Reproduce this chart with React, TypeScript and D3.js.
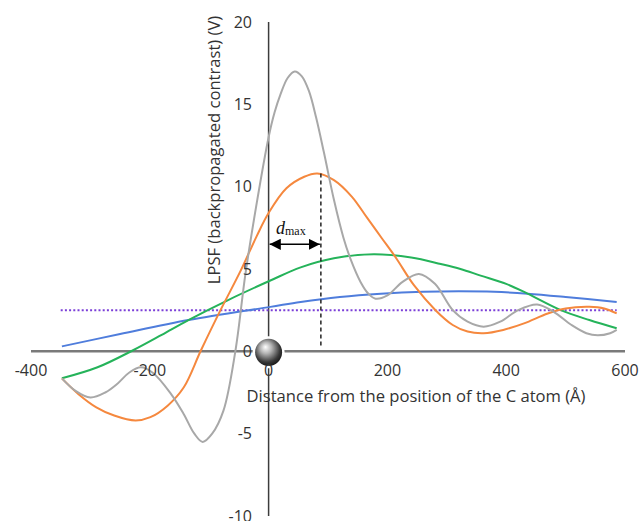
import React from "react";
import * as d3 from "d3";

const xTicks = [-400, -200, 0, 200, 400, 600];
const yTicks = [-10, -5, 0, 5, 10, 15, 20];

const grayX = [-348, -325, -300, -275, -254, -235, -215, -195, -165, -143, -125, -111, -95, -76, -56, -39, -20, 0, 10, 20, 32, 44, 56, 68, 80, 93, 110, 126, 138, 155, 168, 180, 200, 225, 253, 280, 310, 335, 362, 390, 420, 452, 480, 510, 535, 554, 575, 586];
const grayY = [-1.64, -2.4, -2.8, -2.5, -1.95, -1.3, -0.97, -1.3, -2.55, -3.8, -5.0, -5.5, -5.0, -3.6, 0, 4.7, 9.0, 13.0, 14.5, 15.6, 16.6, 17.0, 16.7, 15.8, 14.2, 12.1, 9.2, 6.9, 5.6, 4.2, 3.5, 3.2, 3.4, 4.2, 4.7, 4.1, 2.5, 1.8, 1.5, 1.8, 2.5, 2.85, 2.4, 1.6, 1.1, 0.97, 1.1, 1.3];

const orangeX = [-348, -320, -290, -260, -224, -199, -170, -143, -114, -81, -47, -20, 0, 30, 60, 82, 110, 140, 166, 190, 214, 245, 281, 310, 335, 362, 395, 430, 470, 500, 540, 565, 586];
const orangeY = [-1.64, -2.6, -3.4, -3.9, -4.2, -4.0, -3.3, -2.2, 0.05, 2.5, 4.9, 7.0, 8.4, 9.9, 10.6, 10.8, 10.4, 9.4, 8.1, 6.9, 5.7, 4.0, 2.5, 1.6, 1.2, 1.1, 1.3, 1.7, 2.3, 2.6, 2.7, 2.6, 2.3];

const greenX = [-348, -288, -229, -180, -135, -69, 3, 54, 110, 177, 240, 290, 323, 357, 400, 436, 492, 540, 586];
const greenY = [-1.64, -0.97, 0.05, 1.0, 1.9, 3.1, 4.3, 5.1, 5.65, 5.9, 5.7, 5.3, 5.0, 4.6, 4.1, 3.5, 2.5, 1.9, 1.4];

const blueX = [-348, -250, -135, 3, 54, 120, 189, 260, 320, 380, 436, 500, 586];
const blueY = [0.3, 1.05, 1.9, 2.7, 3.0, 3.3, 3.5, 3.62, 3.65, 3.62, 3.5, 3.3, 3.0];

const purpleX = [-350, 586];
const purpleY = [2.5, 2.5];

const dmaxX = 88;
const dmaxPeak = 10.8;

const xTitle = "Distance from the position of the C atom (Å)";
const yTitle = "LPSF (backpropagated contrast) (V)";

export default function App() {
  const x = d3.scaleLinear().domain([-400, 600]).range([31, 625]);
  const y = d3.scaleLinear().domain([-10, 20]).range([516, 22]);
  const line = d3
    .line<[number, number]>()
    .x((d) => x(d[0]))
    .y((d) => y(d[1]))
    .curve(d3.curveCatmullRom.alpha(0.5));
  const zip = (a: number[], b: number[]) => a.map((v, i) => [v, b[i]] as [number, number]);

  const series = [
    { xs: blueX, ys: blueY, color: "#4f7ddc" },
    { xs: greenX, ys: greenY, color: "#25b35a" },
    { xs: orangeX, ys: orangeY, color: "#f5883e" },
    { xs: grayX, ys: grayY, color: "#a8a8a8" },
  ];

  const fontTick = "'Open Sans', sans-serif";
  const x0 = x(0);
  const y0 = y(0);

  return (
    <svg width={640} height={521} style={{ position: "absolute", left: 0, top: 0, background: "#fff" }}>
      <defs>
        <radialGradient id="ball" cx="45%" cy="40%" r="60%" fx="38%" fy="30%">
          <stop offset="0%" stopColor="#ffffff" />
          <stop offset="35%" stopColor="#b5b5b5" />
          <stop offset="80%" stopColor="#3a3a3a" />
          <stop offset="100%" stopColor="#1a1a1a" />
        </radialGradient>
        <marker id="arrEnd" viewBox="0 0 10 10" refX="10" refY="5" markerWidth="7" markerHeight="7" orient="auto">
          <path d="M0,0 L10,5 L0,10 z" fill="#000" />
        </marker>
        <marker id="arrStart" viewBox="0 0 10 10" refX="0" refY="5" markerWidth="7" markerHeight="7" orient="auto">
          <path d="M10,0 L0,5 L10,10 z" fill="#000" />
        </marker>
      </defs>

      {/* axes */}
      <line x1={x(-400)} x2={x(600)} y1={y0} y2={y0} stroke="#7a7a7a" strokeWidth={2.5} />
      <line x1={x0} x2={x0} y1={y(20)} y2={y(-10)} stroke="#3c3c3c" strokeWidth={1.5} />

      {/* purple dotted */}
      <path d={line(zip(purpleX, purpleY)) || ""} fill="none" stroke="#7b3fd8" strokeWidth={2} strokeDasharray="2,2.2" />

      {series.map((s, i) => (
        <path key={i} d={line(zip(s.xs, s.ys)) || ""} fill="none" stroke={s.color} strokeWidth={2} />
      ))}

      {/* dmax annotation */}
      <line x1={x(dmaxX)} x2={x(dmaxX)} y1={y(dmaxPeak)} y2={y0 - 3} stroke="#222" strokeWidth={1.5} strokeDasharray="4,3" />
      <line x1={x0 + 1} x2={x(dmaxX) - 1} y1={y(6.5)} y2={y(6.5)} stroke="#000" strokeWidth={1.6} markerStart="url(#arrStart)" markerEnd="url(#arrEnd)" />
      <text x={276} y={234} fontFamily="'Liberation Serif', serif" fontSize={18} fill="#111">
        <tspan fontStyle="italic">d</tspan>
        <tspan fontSize={12} dy={1}>max</tspan>
      </text>

      {/* ball */}
      <circle cx={x0} cy={y0 + 1} r={16} fill="#fff" />
      <circle cx={x0} cy={y0 + 1} r={13.5} fill="url(#ball)" />

      {/* tick labels */}
      {xTicks.map((t) => (
        <text key={"x" + t} x={x(t)} y={y0 + 25} textAnchor="middle" fontFamily={fontTick} fontSize={16} fill="#333">
          {t}
        </text>
      ))}
      {yTicks.map((t) => (
        <text key={"y" + t} x={252} y={y(t) + 5.5} textAnchor="end" fontFamily={fontTick} fontSize={16} fill="#333">
          {t}
        </text>
      ))}

      {/* titles */}
      <text x={416} y={402} textAnchor="middle" fontFamily={fontTick} fontSize={16.6} fill="#333">
        {xTitle}
      </text>
      <text transform={`translate(220,150) rotate(-90)`} textAnchor="middle" fontFamily={fontTick} fontSize={16.6} fill="#333">
        {yTitle}
      </text>
    </svg>
  );
}
